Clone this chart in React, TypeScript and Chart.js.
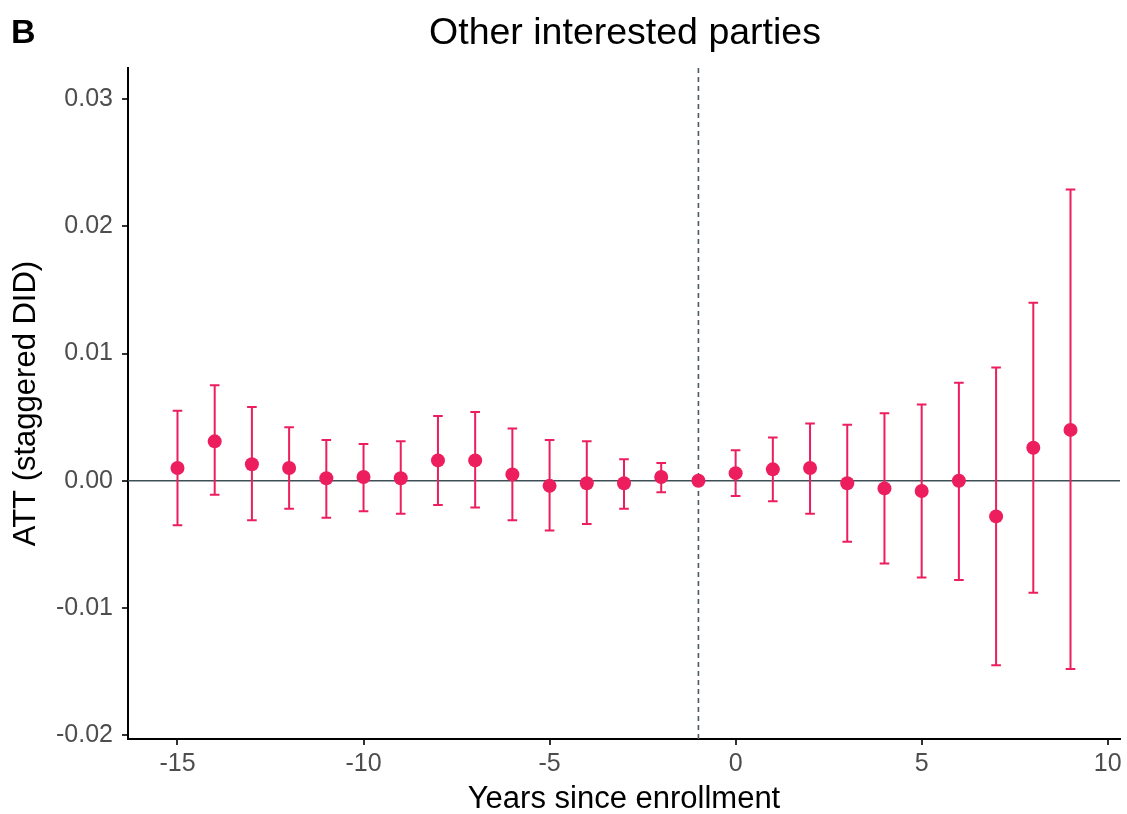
import { useEffect, useRef } from 'react';
import { Chart, registerables } from 'chart.js';

Chart.register(...registerables);

const years = [-15, -14, -13, -12, -11, -10, -9, -8, -7, -6, -5, -4, -3, -2, -1, 0, 1, 2, 3, 4, 5, 6, 7, 8, 9];
const att = [0.0010, 0.0031, 0.0013, 0.0010, 0.0002, 0.0003, 0.0002, 0.0016, 0.0016, 0.0005, -0.0004, -0.0002, -0.0002, 0.0003, 0.0, 0.0006, 0.0009, 0.0010, -0.0002, -0.0006, -0.0008, 0.0, -0.0028, 0.0026, 0.0040];
const ciUpper = [0.0055, 0.0075, 0.0058, 0.0042, 0.0032, 0.0029, 0.0031, 0.0051, 0.0054, 0.0041, 0.0032, 0.0031, 0.0017, 0.0014, null, 0.0024, 0.0034, 0.0045, 0.0044, 0.0053, 0.0060, 0.0077, 0.0089, 0.0140, 0.0229];
const ciLower = [-0.0035, -0.0011, -0.0031, -0.0022, -0.0029, -0.0024, -0.0026, -0.0019, -0.0021, -0.0031, -0.0039, -0.0034, -0.0022, -0.0009, null, -0.0012, -0.0016, -0.0026, -0.0048, -0.0065, -0.0076, -0.0078, -0.0145, -0.0088, -0.0148];
const xTicks = [-15, -10, -5, 0, 5, 10];
const yTicks = [-0.02, -0.01, 0.0, 0.01, 0.02, 0.03];
const refX = -1;
const refY = 0;

const POINT_COLOR = '#EC1E5E';
const FONT = "'Liberation Sans', Arial, Helvetica, sans-serif";

const overlayPlugin = {
  id: 'overlay',
  beforeDatasetsDraw(chart: any) {
    const { ctx, chartArea, scales } = chart;
    const xs = scales.x;
    const ys = scales.y;
    ctx.save();
    const y0 = ys.getPixelForValue(refY);
    ctx.strokeStyle = '#3F4F58';
    ctx.lineWidth = 1.6;
    ctx.beginPath();
    ctx.moveTo(chartArea.left, y0);
    ctx.lineTo(chartArea.right, y0);
    ctx.stroke();
    const xr = xs.getPixelForValue(refX);
    ctx.strokeStyle = '#4A5A63';
    ctx.lineWidth = 1.6;
    ctx.setLineDash([5, 4]);
    ctx.beginPath();
    ctx.moveTo(xr, chartArea.top);
    ctx.lineTo(xr, chartArea.bottom);
    ctx.stroke();
    ctx.setLineDash([]);
    ctx.strokeStyle = POINT_COLOR;
    ctx.lineWidth = 2;
    years.forEach((yr, i) => {
      const lo = ciLower[i];
      const hi = ciUpper[i];
      if (lo === null || hi === null) return;
      const px = xs.getPixelForValue(yr);
      const pLo = ys.getPixelForValue(lo);
      const pHi = ys.getPixelForValue(hi);
      ctx.beginPath();
      ctx.moveTo(px, pLo);
      ctx.lineTo(px, pHi);
      ctx.moveTo(px - 4.8, pLo);
      ctx.lineTo(px + 4.8, pLo);
      ctx.moveTo(px - 4.8, pHi);
      ctx.lineTo(px + 4.8, pHi);
      ctx.stroke();
    });
    ctx.restore();
  },
  afterDraw(chart: any) {
    const { ctx, chartArea } = chart;
    ctx.save();
    ctx.fillStyle = '#000';
    ctx.font = `bold 34px ${FONT}`;
    ctx.textAlign = 'left';
    ctx.textBaseline = 'alphabetic';
    ctx.fillText('B', 11, 43);
    ctx.font = `37.5px ${FONT}`;
    ctx.textAlign = 'center';
    ctx.fillText('Other interested parties', (chartArea.left + chartArea.right) / 2 + 1, 44);
    ctx.font = `31px ${FONT}`;
    ctx.fillText('Years since enrollment', (chartArea.left + chartArea.right) / 2, 808);
    ctx.translate(35, (chartArea.top + chartArea.bottom) / 2);
    ctx.rotate(-Math.PI / 2);
    ctx.fillText('ATT (staggered DID)', 0, 0);
    ctx.restore();
  },
};

export default function App() {
  const canvasRef = useRef<HTMLCanvasElement | null>(null);

  useEffect(() => {
    const canvas = canvasRef.current;
    if (!canvas) return;
    const chart = new Chart(canvas, {
      type: 'scatter',
      data: {
        datasets: [
          {
            data: years.map((x, i) => ({ x, y: att[i] })),
            backgroundColor: POINT_COLOR,
            borderColor: POINT_COLOR,
            pointRadius: 7,
            pointBorderWidth: 0,
            pointHoverRadius: 7,
          },
        ],
      },
      options: {
        responsive: false,
        animation: false,
        devicePixelRatio: 1,
        layout: { padding: { top: 68, right: 7, left: 0, bottom: 0 } },
        plugins: {
          legend: { display: false },
          title: { display: false },
          tooltip: { enabled: false },
        },
        scales: {
          x: {
            type: 'linear',
            min: -16.33,
            max: 10.33,
            afterFit(scale: any) {
              scale.height = 75;
            },
            afterBuildTicks(scale: any) {
              scale.ticks = xTicks.map((v) => ({ value: v }));
            },
            ticks: {
              color: '#4D4D4D',
              font: { family: FONT, size: 25 },
              padding: 4,
              callback: (v: any) => String(v),
            },
            grid: {
              display: true,
              drawOnChartArea: false,
              drawTicks: true,
              tickLength: 6,
              color: '#333333',
              lineWidth: 2,
            },
            border: { display: true, color: '#000', width: 2 },
          },
          y: {
            type: 'linear',
            min: -0.0203,
            max: 0.03245,
            afterFit(scale: any) {
              scale.width = 128;
            },
            afterBuildTicks(scale: any) {
              scale.ticks = yTicks.map((v) => ({ value: v }));
            },
            ticks: {
              color: '#4D4D4D',
              font: { family: FONT, size: 25 },
              padding: 9,
              callback: (v: any) => Number(v).toFixed(2),
            },
            grid: {
              display: true,
              drawOnChartArea: false,
              drawTicks: true,
              tickLength: 6,
              color: '#333333',
              lineWidth: 2,
            },
            border: { display: true, color: '#000', width: 2 },
          },
        },
      },
      plugins: [overlayPlugin],
    });
    return () => chart.destroy();
  }, []);

  return (
    <div style={{ position: 'fixed', left: 0, top: 0, width: 1127, height: 814, background: '#fff' }}>
      <canvas ref={canvasRef} width={1127} height={814} style={{ display: 'block', width: 1127, height: 814 }} />
    </div>
  );
}
